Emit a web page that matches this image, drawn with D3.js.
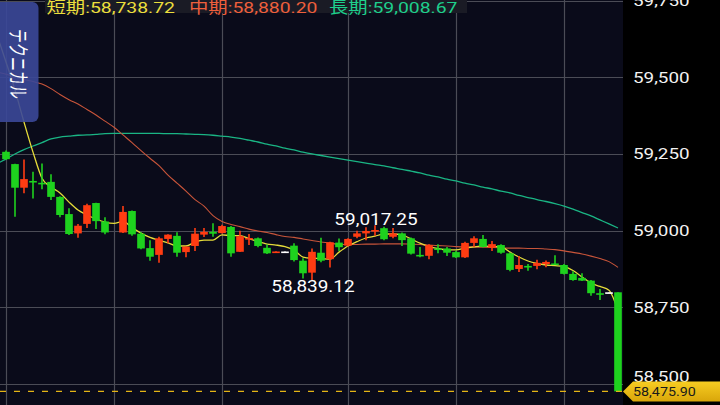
<!DOCTYPE html>
<html><head><meta charset="utf-8">
<script src="https://cdn.jsdelivr.net/npm/d3@7"></script>
<style>html,body{margin:0;padding:0;background:#000;overflow:hidden}</style>
</head><body><svg id="c" width="720" height="405"></svg>
<script>
// ---- data (slot 0 is off-screen lead-in; null = no trade) ----
const openP  = [null,59257,59217,59140,59162,59156,59159,59110,59054,58991,59022,59090,59030,null,58994,59064,58990,58943,58921,58973,58983,58930,58950,58987,58996,58992,59012,58931,58971,58975,58944,58930,58932,58951,58902,58863,58928,58907,58961,58951,58980,58991,58997,59008,58980,58991,58975,58921,58918,58942,58942,58930,58913,58960,58973,58944,58953,58926,58875,58885,58885,58891,58893,58888,58859,58846,58837,58796,58799,58799];
const highP  = [null,59261,59218,59232,59192,59219,59184,59112,59073,59022,59088,59091,59044,null,59080,59066,58995,58969,58980,58988,58995,58948,59009,59009,59024,59019,59015,59000,58989,58978,58955,58933,58932,58959,58910,58942,58977,58964,58974,58975,59000,59011,59017.25,59013,59009,58994,58978,58947,58956,58956,58947,58934,58964,58982,58986,58966,58956,58929,58917,58891,58905,58903,58920,58891,58868,58861,58839,58810,58799,58799];
const lowP   = [null,59230,59045,59122,59105,59135,59100,59044,58986,58977,59009,59005,58988,null,58992,58983,58939,58902,58895,58959,58915,58913,58934,58979,58980,58991,58915,58930,58953,58946,58924,58928,58932,58899,58844,58839.12,58897,58880,58934,58948,58975,58969,58983,58969,58975,58950,58922,58913,58907,58926,58917,58911,58911,58947,58945,58934,58925,58868,58865,58869,58874,58881,58888,58857,58837,58836,58788,58774,58799,58475.90];
const closeP = [null,59233,59140,59168,59157,59152,59110,59051,58989,59016,59083,59031,58994,null,59061,58988,58942,58915,58975,58987,58928,58948,58990,58996,58990,59015,58926,58982,58976,58950,58926,58932,58932,58904,58861,58931,58902,58962,58946,58973,58991,58999,59002,58972,58991,58969,58925,58919.5,58953,58939,58928,58913,58960,58975,58947,58956,58928,58872,58888,58881,58895,58898,58890,58859,58839,58837,58796,58793,58799,58475.90];
const maShort = [59638,59550,59458,59354,59256,59171,59142,59123,59093,59067,59051,59038,59028,59024,59030,59010,58992,58978,58969,58960,58950,58950,58963,58969,58969,58986,58984,58984,58974,58964,58956,58953,58948,58937,58914,58910,58909,58907,58930,58950,58964,58976,58982,58989,58989,58986,58973,58959,58948,58942,58937,58937,58943,58947,58950,58948,58947,58930,58914,58901,58893,58888,58886,58883,58870,58849,58829,58818,58806,58738.72];
const maMid = [59517,59510,59501,59493,59486,59478,59463,59444,59427,59413,59395,59377,59357,59337,59312,59287,59261,59236,59212,59181,59155,59129,59101,59080,59049,59030,59020,59013,59005,58999,58994,58987,58981,58978,58973,58968,58963,58960,58955,58955,58955,58956,58956,58957,58957,58957,58956,58955,58953,58951,58950,58948,58947,58947,58946,58945,58944,58943,58943,58942,58942,58940,58938,58934,58929,58924,58917,58909,58899,58880.20];
const maLong = [59219,59233,59250,59264,59276,59287,59299,59305,59308,59311,59312,59314,59316,59317,59317,59317,59317,59317,59317,59316,59316,59315,59314,59313,59311,59308,59305,59301,59295,59289,59282,59276,59269,59263,59256,59250,59245,59240,59235,59230,59225,59220,59215,59211,59205,59200,59194,59188,59181,59175,59168,59162,59155,59149,59142,59136,59129,59123,59115,59108,59101,59095,59088,59080,59070,59059,59048,59035,59022,59008.67];
const priceTicks = [58500,58750,59000,59250,59500,59750];
const gridSlots = [1,13,25,39,51,63];
const legendItems = [
  {label:"短期", value:58738.72, color:"#ecdf3c"},
  {label:"中期", value:58880.20, color:"#ee5f3c"},
  {label:"長期", value:59008.67, color:"#1ecf8c"}
];
const lastPrice = 58475.90;
const hiIdx = 42, loIdx = 35;
const tabText = "テクニカル";

// ---- layout ----
const W = 720, H = 405, plotR = 623;
const svg = d3.select("#c");
const slots = d3.range(openP.length);
const x = d3.scaleBand().domain(slots).range([-7.5, 622.5]).paddingInner(0.15).paddingOuter(0.075);
const y = d3.scaleLinear().domain([58500, 59750]).range([384, 0.6]);
const bw = x.bandwidth();
const cx = i => x(i) + bw / 2;
const fmt = d3.format(",.2f");

svg.append("rect").attr("width", W).attr("height", H).attr("fill", "#000");
svg.append("rect").attr("width", plotR).attr("height", H).attr("fill", "#0a0b1a");

// grid
const grid = svg.append("g");
grid.selectAll("line.h").data(priceTicks).join("line")
  .attr("x1", 0).attr("x2", plotR)
  .attr("y1", d => Math.round(y(d)) + 0.5).attr("y2", d => Math.round(y(d)) + 0.5)
  .attr("stroke", "#4b4c56").attr("stroke-width", 1.2);
grid.selectAll("line.v").data(gridSlots).join("line")
  .attr("x1", d => Math.round(cx(d)) + 0.5).attr("x2", d => Math.round(cx(d)) + 0.5)
  .attr("y1", 0).attr("y2", H)
  .attr("stroke", "#4b4c56").attr("stroke-width", 1.2);

// moving averages
const line = d3.line().x((d, i) => cx(i)).y(d => y(d)).curve(d3.curveMonotoneX);
const maG = svg.append("g");
[[maLong, "#1ab584", 1.3], [maMid, "#c9553a", 1.1], [maShort, "#e6dc3a", 1.3]].forEach(([arr, col, w]) => {
  maG.append("path").attr("d", line(arr)).attr("fill", "none").attr("stroke", col).attr("stroke-width", w);
});

// candles
const candles = slots.filter(i => openP[i] != null).map(i => ({i, o: openP[i], h: highP[i], l: lowP[i], c: closeP[i]}));
const col = d => d.c > d.o ? "#ff3c12" : (d.c < d.o ? "#1ed21e" : "#ffffff");
const cg = svg.append("g").selectAll("g").data(candles).join("g");
cg.append("line")
  .attr("x1", d => cx(d.i)).attr("x2", d => cx(d.i))
  .attr("y1", d => y(d.h)).attr("y2", d => Math.max(y(d.l), y(d.h) + 0.5))
  .attr("stroke", col).attr("stroke-width", 1.6);
cg.append("rect")
  .attr("x", d => x(d.i)).attr("width", bw)
  .attr("y", d => Math.min(y(d.o), y(d.c)))
  .attr("height", d => Math.max(1.6, Math.abs(y(d.o) - y(d.c))))
  .attr("fill", col);

// last price dashed line
svg.append("line").attr("x1", 0).attr("x2", plotR)
  .attr("y1", y(lastPrice)).attr("y2", y(lastPrice))
  .attr("stroke", "#e4b416").attr("stroke-width", 1.2).attr("stroke-dasharray", "6,8");

// high / low labels
function stretched(g, txt, xx, yy, size, sx, anchor, fill) {
  return g.append("text").attr("transform", `translate(${xx},${yy}) scale(${sx},1)`)
    .attr("text-anchor", anchor).attr("font-family", "Roboto, 'Noto Sans CJK JP', sans-serif")
    .attr("font-size", size).attr("fill", fill).text(txt);
}
stretched(svg, fmt(highP[hiIdx]), cx(hiIdx) + 1, y(highP[hiIdx]) - 0.5, 16.5, 1.15, "middle", "#ffffff");
stretched(svg, fmt(lowP[loIdx]), cx(loIdx) + 1, y(lowP[loIdx]) + 12, 16.5, 1.15, "middle", "#ffffff");

// left tab
svg.append("rect").attr("x", -8).attr("y", 2).attr("width", 46.5).attr("height", 120).attr("rx", 6)
  .attr("fill", "#3b4899").attr("opacity", 0.9);
svg.append("text").attr("transform", "translate(11,64) rotate(90) scale(1,1.5)")
  .attr("text-anchor", "middle").attr("font-family", "'Noto Sans CJK JP', sans-serif")
  .attr("font-size", 14).attr("fill", "#ffffff").text(tabText);

// legend
svg.append("rect").attr("x", 45).attr("y", 0).attr("width", 422).attr("height", 13).attr("fill", "#1a1b25");
const legX = [46.5, 189, 329];
legendItems.forEach((d, k) => {
  stretched(svg, `${d.label}:${fmt(d.value)}`, legX[k], 12.5, 15.5, 1.25, "start", d.color);
});

// right axis
svg.append("rect").attr("x", plotR).attr("y", 0).attr("width", W - plotR).attr("height", H).attr("fill", "#000");
const axis = d3.axisRight(y).tickValues(priceTicks).tickSize(0).tickPadding(0).tickFormat(d3.format(","));
const ag = svg.append("g").attr("transform", `translate(633,0)`).call(axis);
ag.select(".domain").remove();
ag.selectAll(".tick").attr("transform", d => `translate(0,${Math.min(y(d), 376.5)})`);
ag.selectAll("text").attr("x", 0).attr("dy", "0.36em")
  .attr("transform", "scale(1.3,1)")
  .attr("font-family", "Roboto, sans-serif").attr("font-size", 14.5).attr("fill", "#f2f2f2");

// last price tag
const ty = y(lastPrice);
const defs = svg.append("defs");
const gr = defs.append("linearGradient").attr("id", "tagG").attr("x1", 0).attr("x2", 0).attr("y1", 0).attr("y2", 1);
gr.append("stop").attr("offset", "0%").attr("stop-color", "#f7cd22");
gr.append("stop").attr("offset", "100%").attr("stop-color", "#d9a60a");
svg.append("path")
  .attr("d", `M${plotR},${ty} L${plotR + 10},${ty - 10} L${W},${ty - 10} L${W},${ty + 10} L${plotR + 10},${ty + 10} Z`)
  .attr("fill", "url(#tagG)");
stretched(svg, fmt(lastPrice), 633, ty + 4.8, 13, 1.1, "start", "#1a1a1a");
</script></body></html>
